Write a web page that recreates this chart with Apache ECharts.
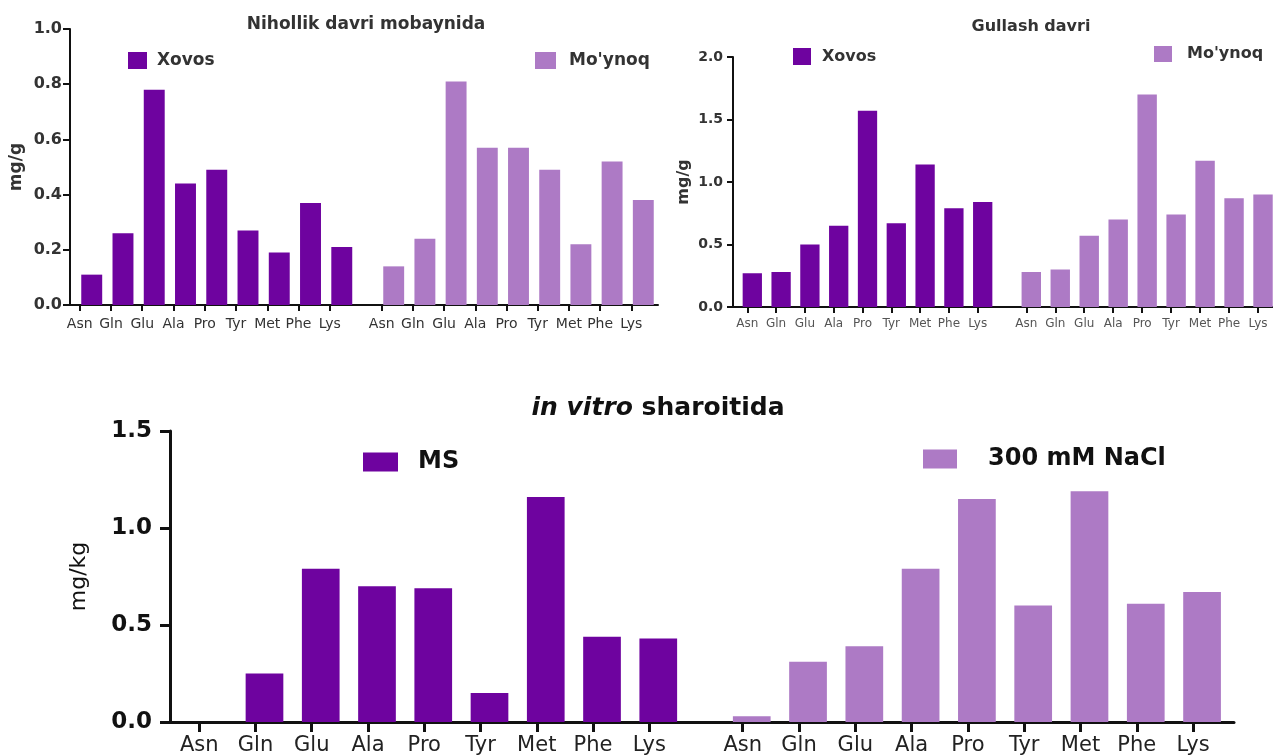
<!DOCTYPE html>
<html>
<head>
<meta charset="utf-8">
<title>Aminokislotalar</title>
<script src="https://cdn.jsdelivr.net/npm/echarts@6/dist/echarts.min.js"></script>
<style>
  html, body { margin: 0; padding: 0; background: #fff; }
  #chart { width: 1273px; height: 756px; }
</style>
</head>
<body>
<div id="chart"></div>
<script>
// Amino acids on every x axis
const aminoAcids = ['Asn', 'Gln', 'Glu', 'Ala', 'Pro', 'Tyr', 'Met', 'Phe', 'Lys'];

// Seedling stage (mg/g)
const seedlingXovos  = [0.11, 0.26, 0.78, 0.44, 0.49, 0.27, 0.19, 0.37, 0.21];
const seedlingMoynoq = [0.14, 0.24, 0.81, 0.57, 0.57, 0.49, 0.22, 0.52, 0.38];
const seedlingTicks  = [0, 0.2, 0.4, 0.6, 0.8, 1.0];

// Flowering stage (mg/g)
const floweringXovos  = [0.27, 0.28, 0.50, 0.65, 1.57, 0.67, 1.14, 0.79, 0.84];
const floweringMoynoq = [0.28, 0.30, 0.57, 0.70, 1.70, 0.74, 1.17, 0.87, 0.90];
const floweringTicks  = [0, 0.5, 1.0, 1.5, 2.0];

// In vitro (mg/kg)
const vitroMS   = [0, 0.25, 0.79, 0.70, 0.69, 0.15, 1.16, 0.44, 0.43];
const vitroNaCl = [0.03, 0.31, 0.39, 0.79, 1.15, 0.60, 1.19, 0.61, 0.67];
const vitroTicks = [0, 0.5, 1.0, 1.5];

const seriesNames = {
  seedling: ['Xovos', "Mo'ynoq"],
  flowering: ['Xovos', "Mo'ynoq"],
  vitro: ['MS', '300 mM NaCl']
};

const DARK = '#6E039F';
const LIGHT = '#AD7AC5';
const FONT = '"DejaVu Sans", Verdana, sans-serif';

// Page layout for the three panels
const panels = [
  {
    values: [seedlingXovos, seedlingMoynoq], names: seriesNames.seedling, ticks: seedlingTicks,
    unit: 'mg/g', unitStyle: { fontSize: 17, fontWeight: 'bold', color: '#333' }, unitGap: 45,
    axisX: 70, axisEnd: 658, top: 29, zeroY: 305,
    bands: [[76.1, 357.4], [378.1, 658.9]], labelShift: 12,
    lineW: 2, yTickLen: 7, xTickLen: 6,
    yLabel: { fontSize: 16, fontWeight: 'bold', color: '#333', margin: 8 },
    xLabel: { fontSize: 14, color: '#333', margin: 12 }
  },
  {
    values: [floweringXovos, floweringMoynoq], names: seriesNames.flowering, ticks: floweringTicks,
    unit: 'mg/g', unitStyle: { fontSize: 16, fontWeight: 'bold', color: '#333' }, unitGap: 41,
    axisX: 733, axisEnd: 1273, top: 57, zeroY: 307,
    bands: [[737.9, 997.1], [1016.8, 1277.5]], labelShift: 5,
    lineW: 2, yTickLen: 6, xTickLen: 6,
    yLabel: { fontSize: 14, fontWeight: 'bold', color: '#333', margin: 10 },
    xLabel: { fontSize: 12, color: '#555', margin: 11 }
  },
  {
    values: [vitroMS, vitroNaCl], names: seriesNames.vitro, ticks: vitroTicks,
    unit: 'mg/kg', unitStyle: { fontSize: 22, fontWeight: 'normal', color: '#111' }, unitGap: 80,
    axisX: 170, axisEnd: 1234, top: 431, zeroY: 722,
    bands: [[180.1, 686.4], [723.6, 1230.2]], labelShift: 9,
    lineW: 3, yTickLen: 10, xTickLen: 10,
    yLabel: { fontSize: 23, fontWeight: 'bold', color: '#111', margin: 18 },
    xLabel: { fontSize: 21, color: '#222', margin: 13 }
  }
];

const grid = [], xAxis = [], yAxis = [], series = [];

function addGrid(left, width, p) {
  grid.push({
    left: left, top: p.top, width: width, height: p.zeroY - p.top,
    containLabel: false, outerBoundsMode: 'none'
  });
  return grid.length - 1;
}

function hiddenY(gi, p) {
  const t = p.ticks;
  yAxis.push({ gridIndex: gi, type: 'value', min: t[0], max: t[t.length - 1], show: false });
}

panels.forEach(function (p) {
  const t = p.ticks;
  const axisLineStyle = { color: '#111', width: p.lineW };

  // frame: y axis and the full-length baseline
  const base = addGrid(p.axisX, p.axisEnd - p.axisX, p);
  xAxis.push({
    gridIndex: base, type: 'value', min: 0, max: 1,
    axisLine: { show: true, onZero: false, lineStyle: axisLineStyle },
    axisTick: { show: false }, axisLabel: { show: false }, splitLine: { show: false }
  });
  yAxis.push({
    gridIndex: base, type: 'value', min: t[0], max: t[t.length - 1], interval: t[1] - t[0],
    axisLine: { show: true, lineStyle: axisLineStyle },
    axisTick: { show: true, length: p.yTickLen, lineStyle: axisLineStyle },
    splitLine: { show: false },
    axisLabel: {
      formatter: function (v) { return v.toFixed(1); },
      fontFamily: FONT, fontSize: p.yLabel.fontSize, fontWeight: p.yLabel.fontWeight,
      color: p.yLabel.color, margin: p.yLabel.margin
    },
    name: p.unit, nameLocation: 'middle', nameRotate: 90, nameGap: p.unitGap,
    nameTextStyle: Object.assign({ fontFamily: FONT }, p.unitStyle)
  });

  // two groups of bars, each on its own category axis
  p.bands.forEach(function (band, g) {
    const gi = addGrid(band[0], band[1] - band[0], p);
    xAxis.push({
      gridIndex: gi, type: 'category', data: aminoAcids,
      axisLine: { show: false }, axisTick: { show: false }, axisLabel: { show: false }
    });
    hiddenY(gi, p);
    series.push({
      type: 'bar', name: p.names[g],
      xAxisIndex: xAxis.length - 1, yAxisIndex: yAxis.length - 1,
      data: p.values[g], barWidth: '67%',
      itemStyle: { color: g === 0 ? DARK : LIGHT },
      emphasis: { disabled: true }
    });

    // tick marks and amino-acid names for the group
    const li = addGrid(band[0] - p.labelShift, band[1] - band[0], p);
    xAxis.push({
      gridIndex: li, type: 'category', data: aminoAcids,
      axisLine: { show: false },
      axisTick: { show: true, alignWithLabel: true, length: p.xTickLen, lineStyle: axisLineStyle },
      axisLabel: {
        interval: 0, fontFamily: FONT, fontSize: p.xLabel.fontSize,
        color: p.xLabel.color, margin: p.xLabel.margin
      }
    });
    hiddenY(li, p);
  });
});

function legendItem(name, left, top, w, h, size, color, gap) {
  return {
    data: [name], left: left, top: top, padding: 0, itemWidth: w, itemHeight: h,
    icon: 'rect', selectedMode: false,
    textStyle: {
      fontFamily: FONT, fontSize: size, fontWeight: 'bold', color: color,
      padding: [0, 0, 0, gap]
    }
  };
}

const option = {
  animation: false,
  backgroundColor: '#fff',
  grid: grid, xAxis: xAxis, yAxis: yAxis, series: series,
  legend: [
    legendItem('Xovos', 128, 52, 19, 17, 17, '#333', 5),
    legendItem("Mo'ynoq", 535, 52, 21, 17, 17, '#333', 8),
    legendItem('Xovos', 793, 48, 18, 17, 16, '#333', 6),
    legendItem("Mo'ynoq", 1154, 46, 18, 16, 16, '#333', 10),
    legendItem('MS', 363, 450, 35, 19, 24, '#111', 15),
    legendItem('300 mM NaCl', 923, 447, 34, 19, 24, '#111', 26)
  ],
  graphic: [
    {
      type: 'text', x: 366, y: 25,
      style: { text: 'Nihollik davri mobaynida', font: 'bold 17px ' + FONT, fill: '#333',
               align: 'center', verticalAlign: 'middle' }
    },
    {
      type: 'text', x: 1031, y: 27,
      style: { text: 'Gullash davri', font: 'bold 16px ' + FONT, fill: '#333',
               align: 'center', verticalAlign: 'middle' }
    },
    {
      type: 'text', x: 658, y: 408,
      style: {
        text: '{i|in vitro} {b|sharoitida}',
        font: 'bold 25px ' + FONT, fill: '#111', align: 'center', verticalAlign: 'middle',
        rich: {
          i: { fontFamily: FONT, fontSize: 25, fontWeight: 'bold', fontStyle: 'italic', fill: '#111' },
          b: { fontFamily: FONT, fontSize: 25, fontWeight: 'bold', fill: '#111' }
        }
      }
    }
  ]
};

const chart = echarts.init(document.getElementById('chart'), null, { renderer: 'canvas' });
chart.setOption(option);
</script>
</body>
</html>
